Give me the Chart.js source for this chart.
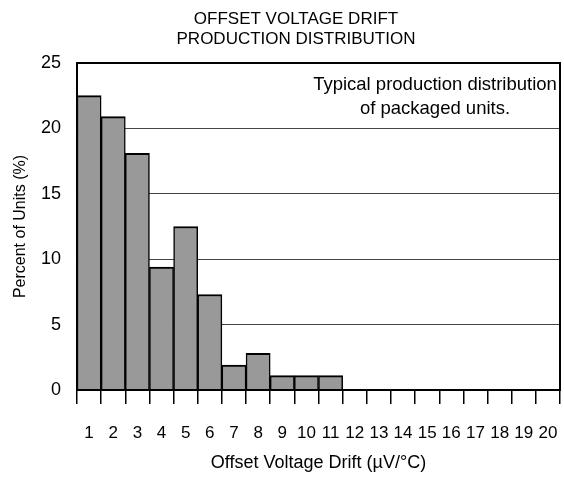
<!DOCTYPE html>
<html>
<head>
<meta charset="utf-8">
<script src="https://cdn.jsdelivr.net/npm/chart.js@4/dist/chart.umd.min.js"></script>
<style>
    html, body { margin: 0; padding: 0; background: #fff; }
    #wrap { width: 564px; height: 480px; }
</style>
</head>
<body>
<div id="wrap"><canvas id="driftChart"></canvas></div>
<script>
// Drift bins (uV/C) and percent of units in each bin
const driftBins = ['1', '2', '3', '4', '5', '6', '7', '8', '9', '10',
                   '11', '12', '13', '14', '15', '16', '17', '18', '19', '20'];
const percentUnits = [22.5, 20.9, 18.1, 9.4, 12.5, 7.3, 1.9, 2.8, 1.1, 1.1,
                      1.1, 0, 0, 0, 0, 0, 0, 0, 0, 0];
const titleLines = ['OFFSET VOLTAGE DRIFT', 'PRODUCTION DISTRIBUTION'];
const noteLines = ['Typical production distribution', 'of packaged units.'];

const fontFamily = '"Liberation Sans", Arial, sans-serif';

// Title above the plot, the box around the plot area and the note text
const framePlugin = {
    id: 'frame',
    afterDatasetsDraw(chart) {
        const ctx = chart.ctx;
        const a = chart.chartArea;
        ctx.save();
        ctx.strokeStyle = '#000';
        ctx.lineWidth = 2;
        ctx.strokeRect(a.left, a.top, a.right - a.left, a.bottom - a.top);

        ctx.fillStyle = '#000';
        ctx.textAlign = 'center';
        ctx.textBaseline = 'middle';

        ctx.font = '17px ' + fontFamily;
        titleLines.forEach((line, i) => {
            ctx.fillText(line, 296, 19 + i * 20);
        });

        ctx.font = '18.5px ' + fontFamily;
        const cx = a.right - 125;
        noteLines.forEach((line, i) => {
            ctx.fillText(line, cx, a.top + 22 + i * 24);
        });
        ctx.restore();
    }
};

const ctx = document.getElementById('driftChart').getContext('2d');
new Chart(ctx, {
    type: 'bar',
    data: {
        labels: driftBins,
        datasets: [{
            data: percentUnits,
            backgroundColor: '#999999',
            borderColor: '#000',
            borderWidth: { top: 2, left: 1.5, right: 1.5, bottom: 0 },
            borderSkipped: false,
            barPercentage: 1,
            categoryPercentage: 1
        }]
    },
    options: {
        responsive: true,
        maintainAspectRatio: false,
        animation: false,
        layout: { padding: { left: 0, right: 4, top: 63, bottom: 0 } },
        plugins: {
            legend: { display: false },
            tooltip: { enabled: false },
            title: { display: false }
        },
        scales: {
            x: {
                offset: true,
                grid: {
                    offset: true,
                    drawOnChartArea: false,
                    drawTicks: true,
                    tickLength: 14,
                    color: '#000',
                    lineWidth: 1.5
                },
                border: { display: false },
                ticks: {
                    color: '#000',
                    padding: 19,
                    maxRotation: 0,
                    autoSkip: false,
                    font: { family: fontFamily, size: 17 }
                },
                title: {
                    display: true,
                    text: 'Offset Voltage Drift (\u00b5V/\u00b0C)',
                    color: '#000',
                    font: { family: fontFamily, size: 18 },
                    padding: { top: 0, bottom: 6 }
                },
                afterFit(scale) {
                    scale.height = 90;
                    // labels sit inside the category slots, no side room needed
                    scale.paddingLeft = 0;
                    scale.paddingRight = 0;
                }
            },
            y: {
                min: 0,
                max: 25,
                grid: {
                    drawTicks: false,
                    color: '#444',
                    lineWidth: 1
                },
                border: { display: false },
                ticks: {
                    stepSize: 5,
                    color: '#000',
                    padding: 16,
                    font: { family: fontFamily, size: 18 }
                },
                title: {
                    display: true,
                    text: 'Percent of Units (%)',
                    color: '#000',
                    font: { family: fontFamily, size: 16 },
                    padding: { top: 11, bottom: 0 }
                },
                afterFit(scale) { scale.width = 77; }
            }
        }
    },
    plugins: [framePlugin]
});
</script>
</body>
</html>
